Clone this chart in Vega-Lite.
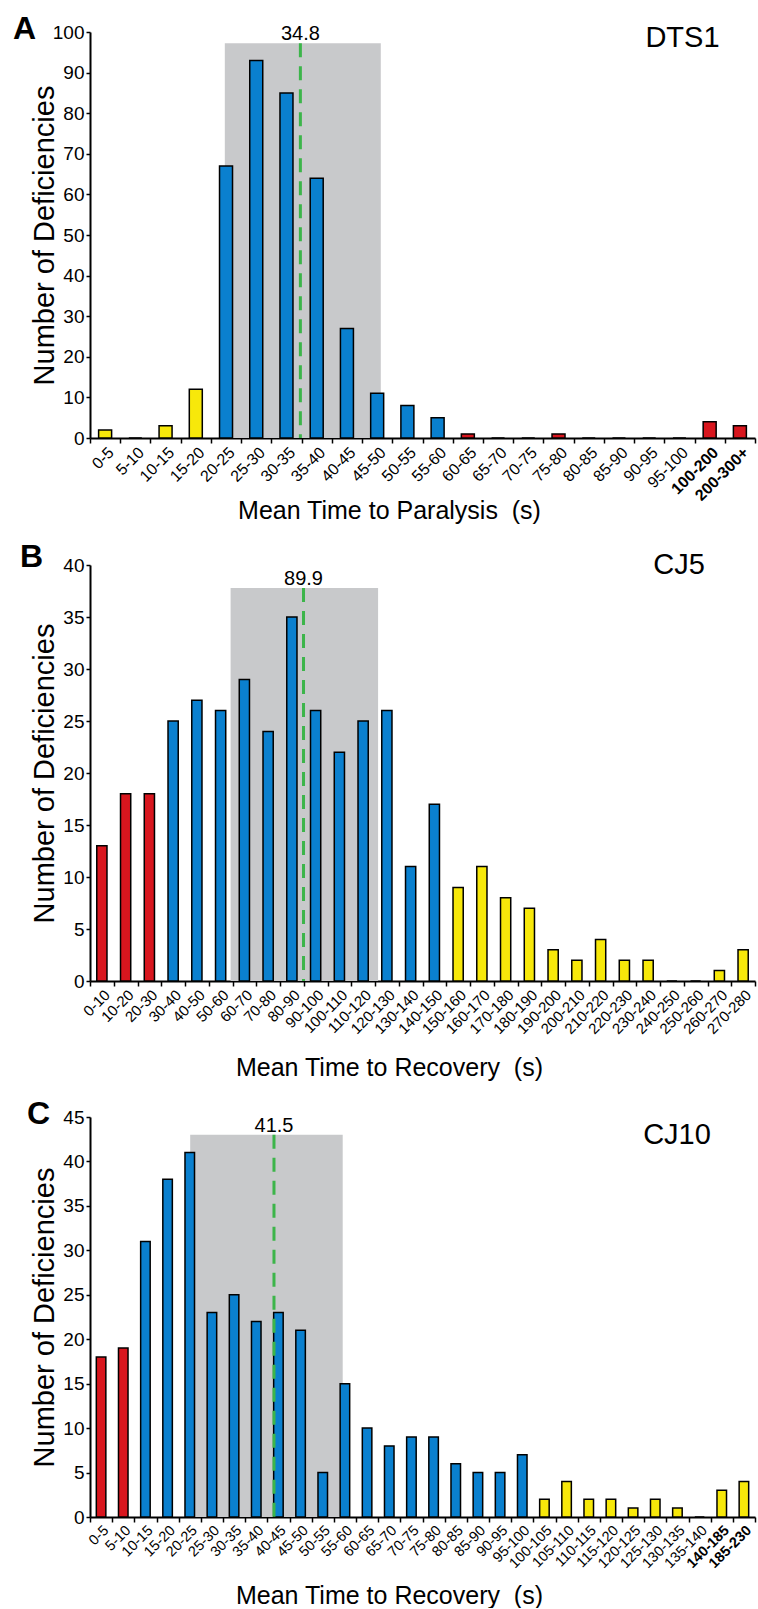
{
 "$schema": "https://vega.github.io/schema/vega-lite/v6.json",
 "background": "white",
 "padding": {"left": 13, "top": 13, "right": 3, "bottom": 0},
 "spacing": 18,
 "config": {
  "font": "Liberation Sans",
  "view": {"stroke": null},
  "axis": {"grid": false, "labelColor": "black", "titleColor": "black", "domainColor": "black", "tickColor": "black", "labelFont": "Liberation Sans", "titleFont": "Liberation Sans", "titleFontWeight": "normal", "domainWidth": 2, "tickWidth": 1.5},
  "title": {"font": "Liberation Sans", "color": "black"},
  "text": {"font": "Liberation Sans", "color": "black"}
 },
 "datasets": {
  "binsA": [
   {"bin": "0-5", "n": 2, "group": "enhancer"},
   {"bin": "5-10", "n": 0, "group": "enhancer"},
   {"bin": "10-15", "n": 3, "group": "enhancer"},
   {"bin": "15-20", "n": 12, "group": "enhancer"},
   {"bin": "20-25", "n": 67, "group": "normal"},
   {"bin": "25-30", "n": 93, "group": "normal"},
   {"bin": "30-35", "n": 85, "group": "normal"},
   {"bin": "35-40", "n": 64, "group": "normal"},
   {"bin": "40-45", "n": 27, "group": "normal"},
   {"bin": "45-50", "n": 11, "group": "normal"},
   {"bin": "50-55", "n": 8, "group": "normal"},
   {"bin": "55-60", "n": 5, "group": "normal"},
   {"bin": "60-65", "n": 1, "group": "suppressor"},
   {"bin": "65-70", "n": 0, "group": "suppressor"},
   {"bin": "70-75", "n": 0, "group": "suppressor"},
   {"bin": "75-80", "n": 1, "group": "suppressor"},
   {"bin": "80-85", "n": 0, "group": "suppressor"},
   {"bin": "85-90", "n": 0, "group": "suppressor"},
   {"bin": "90-95", "n": 0, "group": "suppressor"},
   {"bin": "95-100", "n": 0, "group": "suppressor"},
   {"bin": "100-200", "n": 4, "group": "suppressor"},
   {"bin": "200-300+", "n": 3, "group": "suppressor"}
  ],
  "statsA": [{"lo": 22.3, "hi": 48.1, "mean": 34.8, "top": 97.2, "nameX": 98, "nameY": 98.5, "name": "DTS1"}],
  "binsB": [
   {"bin": "0-10", "n": 13, "group": "suppressor"},
   {"bin": "10-20", "n": 18, "group": "suppressor"},
   {"bin": "20-30", "n": 18, "group": "suppressor"},
   {"bin": "30-40", "n": 25, "group": "normal"},
   {"bin": "40-50", "n": 27, "group": "normal"},
   {"bin": "50-60", "n": 26, "group": "normal"},
   {"bin": "60-70", "n": 29, "group": "normal"},
   {"bin": "70-80", "n": 24, "group": "normal"},
   {"bin": "80-90", "n": 35, "group": "normal"},
   {"bin": "90-100", "n": 26, "group": "normal"},
   {"bin": "100-110", "n": 22, "group": "normal"},
   {"bin": "110-120", "n": 25, "group": "normal"},
   {"bin": "120-130", "n": 26, "group": "normal"},
   {"bin": "130-140", "n": 11, "group": "normal"},
   {"bin": "140-150", "n": 17, "group": "normal"},
   {"bin": "150-160", "n": 9, "group": "enhancer"},
   {"bin": "160-170", "n": 11, "group": "enhancer"},
   {"bin": "170-180", "n": 8, "group": "enhancer"},
   {"bin": "180-190", "n": 7, "group": "enhancer"},
   {"bin": "190-200", "n": 3, "group": "enhancer"},
   {"bin": "200-210", "n": 2, "group": "enhancer"},
   {"bin": "210-220", "n": 4, "group": "enhancer"},
   {"bin": "220-230", "n": 2, "group": "enhancer"},
   {"bin": "230-240", "n": 2, "group": "enhancer"},
   {"bin": "240-250", "n": 0, "group": "enhancer"},
   {"bin": "250-260", "n": 0, "group": "enhancer"},
   {"bin": "260-270", "n": 1, "group": "enhancer"},
   {"bin": "270-280", "n": 3, "group": "enhancer"}
  ],
  "statsB": [{"lo": 59.2, "hi": 121.3, "mean": 89.9, "top": 37.8, "nameX": 248, "nameY": 40, "name": "CJ5"}],
  "binsC": [
   {"bin": "0-5", "n": 18, "group": "suppressor"},
   {"bin": "5-10", "n": 19, "group": "suppressor"},
   {"bin": "10-15", "n": 31, "group": "normal"},
   {"bin": "15-20", "n": 38, "group": "normal"},
   {"bin": "20-25", "n": 41, "group": "normal"},
   {"bin": "25-30", "n": 23, "group": "normal"},
   {"bin": "30-35", "n": 25, "group": "normal"},
   {"bin": "35-40", "n": 22, "group": "normal"},
   {"bin": "40-45", "n": 23, "group": "normal"},
   {"bin": "45-50", "n": 21, "group": "normal"},
   {"bin": "50-55", "n": 5, "group": "normal"},
   {"bin": "55-60", "n": 15, "group": "normal"},
   {"bin": "60-65", "n": 10, "group": "normal"},
   {"bin": "65-70", "n": 8, "group": "normal"},
   {"bin": "70-75", "n": 9, "group": "normal"},
   {"bin": "75-80", "n": 9, "group": "normal"},
   {"bin": "80-85", "n": 6, "group": "normal"},
   {"bin": "85-90", "n": 5, "group": "normal"},
   {"bin": "90-95", "n": 5, "group": "normal"},
   {"bin": "95-100", "n": 7, "group": "normal"},
   {"bin": "100-105", "n": 2, "group": "enhancer"},
   {"bin": "105-110", "n": 4, "group": "enhancer"},
   {"bin": "110-115", "n": 2, "group": "enhancer"},
   {"bin": "115-120", "n": 2, "group": "enhancer"},
   {"bin": "120-125", "n": 1, "group": "enhancer"},
   {"bin": "125-130", "n": 2, "group": "enhancer"},
   {"bin": "130-135", "n": 1, "group": "enhancer"},
   {"bin": "135-140", "n": 0, "group": "enhancer"},
   {"bin": "140-185", "n": 3, "group": "enhancer"},
   {"bin": "185-230", "n": 4, "group": "enhancer"}
  ],
  "statsC": [{"lo": 22.6, "hi": 57, "mean": 41.5, "top": 43, "nameX": 132.4, "nameY": 43, "name": "CJ10"}]
 },
 "vconcat": [
  {
   "width": 665, "height": 406,
   "title": {"text": "A", "anchor": "start", "frame": "group", "fontSize": 32, "fontWeight": "bold", "dx": -77, "dy": 48, "baseline": "alphabetic", "offset": 0},
   "resolve": {"scale": {"x": "independent"}, "axis": {"x": "independent"}},
   "layer": [
    {"data": {"name": "statsA"}, "mark": {"type": "rect", "color": "#c8c9cb"},
     "encoding": {
      "x": {"field": "lo", "type": "quantitative", "scale": {"domain": [0, 110], "nice": false, "zero": false}, "axis": null},
      "x2": {"field": "hi"},
      "y": {"field": "top", "type": "quantitative", "title": "Number of Deficiencies", "scale": {"domain": [0, 100], "nice": false}},
      "y2": {"datum": 0}}},
    {"data": {"name": "binsA"}, "mark": {"type": "bar", "width": {"band": 0.43}, "stroke": "black", "strokeWidth": 1.5},
     "encoding": {
      "x": {"field": "bin", "type": "nominal", "sort": null, "scale": {"paddingInner": 0, "paddingOuter": 0},
       "axis": {"title": "Mean Time to Paralysis \u00a0(s)", "titleFontSize": 25, "titleX": 299, "titleY": 80, "titleBaseline": "alphabetic", "labelAngle": -45, "labelFontSize": 16, "labelOverlap": false, "tickBand": "extent", "tickSize": 5, "labelPadding": 1,
        "labelFontWeight": {"condition": {"test": "datum.value == '100-200' || datum.value == '200-300+'", "value": "bold"}, "value": "normal"}}},
      "y": {"field": "n", "type": "quantitative", "title": "Number of Deficiencies", "scale": {"domain": [0, 100], "nice": false},
       "axis": {"title": "Number of Deficiencies", "titleFontSize": 29, "titleX": -37, "titleBaseline": "alphabetic", "values": [0, 10, 20, 30, 40, 50, 60, 70, 80, 90, 100], "labelFontSize": 19, "tickSize": 4, "labelPadding": 2}},
      "color": {"field": "group", "type": "nominal", "scale": {"domain": ["enhancer", "normal", "suppressor"], "range": ["#f7e80a", "#0a80cf", "#d8161e"]}, "legend": null}}},
    {"data": {"name": "statsA"}, "mark": {"type": "rule", "color": "#3cb54a", "strokeWidth": 3, "strokeDash": [14, 9]},
     "encoding": {
      "x": {"field": "mean", "type": "quantitative", "scale": {"domain": [0, 110], "nice": false, "zero": false}, "axis": null},
      "y": {"field": "top", "type": "quantitative", "title": "Number of Deficiencies", "scale": {"domain": [0, 100], "nice": false}},
      "y2": {"datum": 0}}},
    {"data": {"name": "statsA"}, "mark": {"type": "text", "baseline": "alphabetic", "dy": -3, "fontSize": 20},
     "encoding": {
      "x": {"field": "mean", "type": "quantitative", "scale": {"domain": [0, 110], "nice": false, "zero": false}, "axis": null},
      "y": {"field": "top", "type": "quantitative", "title": "Number of Deficiencies", "scale": {"domain": [0, 100], "nice": false}},
      "text": {"field": "mean", "type": "quantitative", "format": ".1f"}}},
    {"data": {"name": "statsA"}, "mark": {"type": "text", "baseline": "middle", "fontSize": 29},
     "encoding": {
      "x": {"field": "nameX", "type": "quantitative", "scale": {"domain": [0, 110], "nice": false, "zero": false}, "axis": null},
      "y": {"field": "nameY", "type": "quantitative", "title": "Number of Deficiencies", "scale": {"domain": [0, 100], "nice": false}},
      "text": {"field": "name"}}}
   ]
  },
  {
   "width": 665, "height": 416,
   "title": {"text": "B", "anchor": "start", "frame": "group", "fontSize": 32, "fontWeight": "bold", "dx": -70, "dy": 48, "baseline": "alphabetic", "offset": 0},
   "resolve": {"scale": {"x": "independent"}, "axis": {"x": "independent"}},
   "layer": [
    {"data": {"name": "statsB"}, "mark": {"type": "rect", "color": "#c8c9cb"},
     "encoding": {
      "x": {"field": "lo", "type": "quantitative", "scale": {"domain": [0, 280], "nice": false, "zero": false}, "axis": null},
      "x2": {"field": "hi"},
      "y": {"field": "top", "type": "quantitative", "title": "Number of Deficiencies", "scale": {"domain": [0, 40], "nice": false}},
      "y2": {"datum": 0}}},
    {"data": {"name": "binsB"}, "mark": {"type": "bar", "width": {"band": 0.43}, "stroke": "black", "strokeWidth": 1.5},
     "encoding": {
      "x": {"field": "bin", "type": "nominal", "sort": null, "scale": {"paddingInner": 0, "paddingOuter": 0},
       "axis": {"title": "Mean Time to Recovery \u00a0(s)", "titleFontSize": 25, "titleX": 299, "titleY": 94, "titleBaseline": "alphabetic", "labelAngle": -45, "labelFontSize": 15, "labelOverlap": false, "tickBand": "extent", "tickSize": 5, "labelPadding": 1}},
      "y": {"field": "n", "type": "quantitative", "title": "Number of Deficiencies", "scale": {"domain": [0, 40], "nice": false},
       "axis": {"title": "Number of Deficiencies", "titleFontSize": 29, "titleX": -37, "titleBaseline": "alphabetic", "values": [0, 5, 10, 15, 20, 25, 30, 35, 40], "labelFontSize": 19, "tickSize": 4, "labelPadding": 2}},
      "color": {"field": "group", "type": "nominal", "scale": {"domain": ["enhancer", "normal", "suppressor"], "range": ["#f7e80a", "#0a80cf", "#d8161e"]}, "legend": null}}},
    {"data": {"name": "statsB"}, "mark": {"type": "rule", "color": "#3cb54a", "strokeWidth": 3, "strokeDash": [14, 9]},
     "encoding": {
      "x": {"field": "mean", "type": "quantitative", "scale": {"domain": [0, 280], "nice": false, "zero": false}, "axis": null},
      "y": {"field": "top", "type": "quantitative", "title": "Number of Deficiencies", "scale": {"domain": [0, 40], "nice": false}},
      "y2": {"datum": 0}}},
    {"data": {"name": "statsB"}, "mark": {"type": "text", "baseline": "alphabetic", "dy": -3, "fontSize": 20},
     "encoding": {
      "x": {"field": "mean", "type": "quantitative", "scale": {"domain": [0, 280], "nice": false, "zero": false}, "axis": null},
      "y": {"field": "top", "type": "quantitative", "title": "Number of Deficiencies", "scale": {"domain": [0, 40], "nice": false}},
      "text": {"field": "mean", "type": "quantitative", "format": ".1f"}}},
    {"data": {"name": "statsB"}, "mark": {"type": "text", "baseline": "middle", "fontSize": 29},
     "encoding": {
      "x": {"field": "nameX", "type": "quantitative", "scale": {"domain": [0, 280], "nice": false, "zero": false}, "axis": null},
      "y": {"field": "nameY", "type": "quantitative", "title": "Number of Deficiencies", "scale": {"domain": [0, 40], "nice": false}},
      "text": {"field": "name"}}}
   ]
  },
  {
   "width": 665, "height": 400,
   "title": {"text": "C", "anchor": "start", "frame": "group", "fontSize": 32, "fontWeight": "bold", "dx": -63, "dy": 48, "baseline": "alphabetic", "offset": 0},
   "resolve": {"scale": {"x": "independent"}, "axis": {"x": "independent"}},
   "layer": [
    {"data": {"name": "statsC"}, "mark": {"type": "rect", "color": "#c8c9cb"},
     "encoding": {
      "x": {"field": "lo", "type": "quantitative", "scale": {"domain": [0, 150], "nice": false, "zero": false}, "axis": null},
      "x2": {"field": "hi"},
      "y": {"field": "top", "type": "quantitative", "title": "Number of Deficiencies", "scale": {"domain": [0, 45], "nice": false}},
      "y2": {"datum": 0}}},
    {"data": {"name": "binsC"}, "mark": {"type": "bar", "width": {"band": 0.43}, "stroke": "black", "strokeWidth": 1.5},
     "encoding": {
      "x": {"field": "bin", "type": "nominal", "sort": null, "scale": {"paddingInner": 0, "paddingOuter": 0},
       "axis": {"title": "Mean Time to Recovery \u00a0(s)", "titleFontSize": 25, "titleX": 299, "titleY": 86, "titleBaseline": "alphabetic", "labelAngle": -45, "labelFontSize": 14.5, "labelOverlap": false, "tickBand": "extent", "tickSize": 5, "labelPadding": 1,
        "labelFontWeight": {"condition": {"test": "datum.value == '140-185' || datum.value == '185-230'", "value": "bold"}, "value": "normal"}}},
      "y": {"field": "n", "type": "quantitative", "title": "Number of Deficiencies", "scale": {"domain": [0, 45], "nice": false},
       "axis": {"title": "Number of Deficiencies", "titleFontSize": 29, "titleX": -37, "titleBaseline": "alphabetic", "values": [0, 5, 10, 15, 20, 25, 30, 35, 40, 45], "labelFontSize": 19, "tickSize": 4, "labelPadding": 2}},
      "color": {"field": "group", "type": "nominal", "scale": {"domain": ["enhancer", "normal", "suppressor"], "range": ["#f7e80a", "#0a80cf", "#d8161e"]}, "legend": null}}},
    {"data": {"name": "statsC"}, "mark": {"type": "rule", "color": "#3cb54a", "strokeWidth": 3, "strokeDash": [14, 9]},
     "encoding": {
      "x": {"field": "mean", "type": "quantitative", "scale": {"domain": [0, 150], "nice": false, "zero": false}, "axis": null},
      "y": {"field": "top", "type": "quantitative", "title": "Number of Deficiencies", "scale": {"domain": [0, 45], "nice": false}},
      "y2": {"datum": 0}}},
    {"data": {"name": "statsC"}, "mark": {"type": "text", "baseline": "alphabetic", "dy": -3, "fontSize": 20},
     "encoding": {
      "x": {"field": "mean", "type": "quantitative", "scale": {"domain": [0, 150], "nice": false, "zero": false}, "axis": null},
      "y": {"field": "top", "type": "quantitative", "title": "Number of Deficiencies", "scale": {"domain": [0, 45], "nice": false}},
      "text": {"field": "mean", "type": "quantitative", "format": ".1f"}}},
    {"data": {"name": "statsC"}, "mark": {"type": "text", "baseline": "middle", "fontSize": 29},
     "encoding": {
      "x": {"field": "nameX", "type": "quantitative", "scale": {"domain": [0, 150], "nice": false, "zero": false}, "axis": null},
      "y": {"field": "nameY", "type": "quantitative", "title": "Number of Deficiencies", "scale": {"domain": [0, 45], "nice": false}},
      "text": {"field": "name"}}}
   ]
  }
 ]
}
